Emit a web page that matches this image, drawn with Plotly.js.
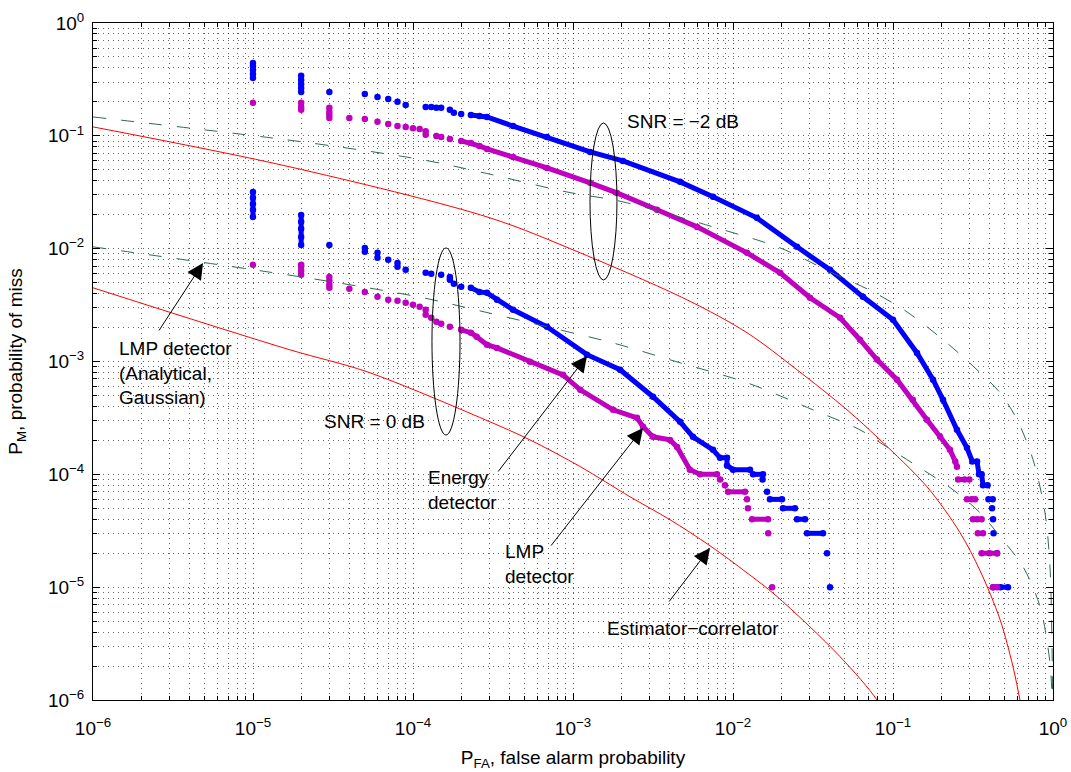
<!DOCTYPE html>
<html>
<head>
<meta charset="utf-8">
<script src="https://cdn.plot.ly/plotly-3.0.1.min.js"></script>
<style>html,body{margin:0;padding:0;background:#fff;}#chart{width:1071px;height:772px;}</style>
</head>
<body>
<div id="chart"></div>
<script>
// ---------- data ----------
// Energy detector, SNR = -2 dB (simulated, blue)
const edM2_x = [1e-5,1e-5,1e-5,1e-5,1e-5,null, 2e-5,2e-5,2e-5,2e-5,2e-5,null, 3e-5,null, 5e-5,null, 6e-5,null, 7e-5,null, 8e-5,null, 9e-5,null, 1.2e-4,null, 1.3e-4,null, 1.4e-4,null, 1.5e-4,null, 1.7e-4,null, 1.8e-4,null, 2e-4,null,
  2.3e-4,2.6e-4,2.9e-4,4.22e-4,6.88e-4,1.28e-3,2.05e-3,4.67e-3,7.5e-3,0.0141,0.0251,0.0404,0.0649,0.1,0.1413,0.178,0.2054,0.251,0.290,0.313,0.335,0.345,0.358,0.365,0.39,null, 0.395,0.42,null, 0.416,null, 0.422,null, 0.425,null, 0.447,null, 0.422,0.47,0.523];
const edM2_y = [0.442,0.416,0.384,0.353,0.326,null, 0.340,0.313,0.288,0.266,0.245,null, 0.245,null, 0.235,null, 0.221,null, 0.212,null, 0.200,null, 0.188,null, 0.180,null, 0.180,null, 0.177,null, 0.177,null, 0.170,null, 0.160,null, 0.156,null,
  0.153,0.150,0.147,0.122,0.0978,0.0720,0.0599,0.0391,0.0288,0.01875,0.01038,6.49e-3,3.74e-3,2.34e-3,1.19e-3,6.89e-4,4.58e-4,2.48e-4,1.72e-4,1.3e-4,1.3e-4,1e-4,1e-4,8e-5,8e-5,null, 6e-5,6e-5,null, 5e-5,null, 4e-5,null, 3e-5,null, 2e-5,null, 1e-5,1e-5,1e-5];

// LMP detector, SNR = -2 dB (simulated, magenta)
const lmpM2_x = [1e-5,null, 2e-5,2e-5,2e-5,null, 3e-5,3e-5,3e-5,3e-5,null, 4e-5,null, 5e-5,null, 6e-5,null, 7e-5,null, 8e-5,null, 9e-5,null, 1e-4,null, 1.1e-4,null, 1.2e-4,1.2e-4,null, 1.4e-4,null, 1.5e-4,null, 1.7e-4,null,
  2e-4,2.3e-4,2.6e-4,2.9e-4,4.22e-4,6.88e-4,1.28e-3,1.88e-3,3.35e-3,5.96e-3,0.01223,0.0197,0.0303,0.0467,0.0622,0.0794,0.106,0.133,0.163,0.197,0.227,0.245,0.251,null, 0.255,0.28,0.30,null, 0.29,0.31,0.326,null, 0.316,0.336,0.358,null, 0.339,0.365,null, 0.358,0.40,0.447,null, 0.422,0.447];
const lmpM2_y = [0.196,null, 0.196,0.180,0.170,null, 0.177,0.163,0.153,0.144,null, 0.144,null, 0.141,null, 0.133,null, 0.127,null, 0.122,null, 0.120,null, 0.117,null, 0.115,null, 0.110,0.102,null, 0.0998,null, 0.0978,null, 0.0939,null,
  0.0901,0.0865,0.0814,0.0766,0.0650,0.0520,0.0383,0.0312,0.0221,0.0156,9.18e-3,6.11e-3,3.67e-3,2.44e-3,1.56e-3,1.04e-3,6.89e-4,4.58e-4,3.05e-4,2.15e-4,1.65e-4,1.3e-4,1.17e-4,null, 9e-5,9e-5,9e-5,null, 6e-5,6e-5,6e-5,null, 4e-5,4e-5,4e-5,null, 3e-5,3e-5,null, 2e-5,2e-5,2e-5,null, 1e-5,1e-5];

// Energy detector, SNR = 0 dB (simulated, blue)
const edP0_x = [1e-5,1e-5,1e-5,1e-5,1e-5,null, 2e-5,2e-5,2e-5,2e-5,2e-5,null, 3e-5,null, 5e-5,5e-5,null, 6e-5,6e-5,null, 7e-5,null, 8e-5,8e-5,null, 9e-5,null, 1.2e-4,null, 1.3e-4,null, 1.5e-4,null, 1.7e-4,1.7e-4,null, 1.8e-4,null, 2e-4,null,
  2.3e-4,2.6e-4,2.9e-4,3.35e-4,4.22e-4,6.88e-4,1.223e-3,1.97e-3,3.16e-3,4.67e-3,5.62e-3,7.5e-3,8.3e-3,9.17e-3,9.17e-3,0.01,0.01277,null, 0.01334,0.0154,null, 0.0153,null, 0.01632,null, 0.01702,0.02023,null, 0.02052,0.0244,null, 0.0251,0.0282,null, 0.029,0.0365,null, 0.0387,null, 0.0404];
const edP0_y = [0.0318,0.0282,0.0249,0.0221,0.0191,null, 0.0199,0.0173,0.0150,0.0127,0.0108,null, 0.0108,null, 0.01016,9.37e-3,null, 9.18e-3,8.29e-3,null, 7.96e-3,null, 7.48e-3,6.90e-3,null, 6.49e-3,null, 6.11e-3,null, 5.98e-3,null, 5.86e-3,null, 5.62e-3,5.29e-3,null, 4.88e-3,null, 4.59e-3,null,
  4.50e-3,4.14e-3,4.06e-3,3.52e-3,2.87e-3,2.03e-3,1.15e-3,8.45e-4,4.87e-4,2.92e-4,2.15e-4,1.65e-4,1.4e-4,1.4e-4,1.2e-4,1.1e-4,1.1e-4,null, 1e-4,1e-4,null, 9e-5,null, 7e-5,null, 6e-5,6e-5,null, 5e-5,5e-5,null, 4e-5,4e-5,null, 3e-5,3e-5,null, 2e-5,null, 1e-5];

// LMP detector, SNR = 0 dB (simulated, magenta)
const lmpP0_x = [1e-5,null, 2e-5,2e-5,2e-5,2e-5,null, 3e-5,3e-5,3e-5,3e-5,null, 4e-5,null, 5e-5,null, 6e-5,null, 7e-5,null, 8e-5,null, 9e-5,null, 1e-4,null, 1.1e-4,null, 1.2e-4,1.2e-4,null, 1.3e-4,null, 1.4e-4,null, 1.5e-4,null, 1.7e-4,null,
  2e-4,2.3e-4,2.5e-4,2.9e-4,3.35e-4,5.38e-4,8.66e-4,1.11e-3,1.78e-3,2.51e-3,2.74e-3,3.16e-3,4.04e-3,4.47e-3,5.38e-3,6.22e-3,7.94e-3,null, 8.3e-3,null, 8.91e-3,null, 9.31e-3,0.01189,null, 0.01223,null, 0.0124,null, 0.01315,0.01656,null, 0.0166,null, 0.01755];
const lmpP0_y = [7.19e-3,null, 7.19e-3,6.90e-3,6.36e-3,5.86e-3,null, 5.62e-3,5.19e-3,4.78e-3,4.50e-3,null, 4.41e-3,null, 4.14e-3,null, 3.74e-3,null, 3.52e-3,null, 3.45e-3,null, 3.31e-3,null, 3.18e-3,null, 3.05e-3,null, 2.87e-3,2.59e-3,null, 2.44e-3,null, 2.25e-3,null, 2.16e-3,null, 2.03e-3,null,
  1.91e-3,1.80e-3,1.66e-3,1.41e-3,1.32e-3,9.94e-4,7.62e-4,5.61e-4,3.73e-4,3.17e-4,2.64e-4,2.15e-4,2.02e-4,1.75e-4,1.1e-4,1e-4,1e-4,null, 9e-5,null, 8e-5,null, 7e-5,7e-5,null, 6e-5,null, 5e-5,null, 4e-5,4e-5,null, 3e-5,null, 1e-5];

// Estimator-correlator (red), SNR = -2 dB and 0 dB
const ecM2_x = [1e-6,1.70e-5,3.03e-4,1.11e-3,5.16e-3,0.01223,0.0251,0.0516,0.0830,0.1631,0.2624,0.350,0.467,0.562,0.622,0.69];
const ecM2_y = [0.120,0.0531,0.01875,9.18e-3,3.52e-3,1.80e-3,8.45e-4,3.73e-4,2.02e-4,7.76e-5,3.04e-5,1.40e-5,5.15e-6,1.98e-6,1e-6,5e-7];
const ecP0_x = [1e-6,1.70e-5,5.16e-5,2.82e-4,5.38e-4,1.11e-3,2.27e-3,4.04e-3,7.18e-3,0.01223,0.01858,0.0467,0.0794,0.09];
const ecP0_y = [4.50e-3,1.27e-3,8.11e-4,3.05e-4,2.02e-4,1.17e-4,6.33e-5,3.96e-5,2.33e-5,1.34e-5,8.41e-6,2.42e-6,1e-6,7e-7];

// LMP detector, analytical Gaussian (dashed), SNR = -2 dB and 0 dB
const anM2_x = [1e-6,2.05e-5,1.155e-4,2.62e-4,9.17e-4,2.05e-3,7.50e-3,0.0197,0.0404,0.0750,0.1223,0.2054,0.335,0.467,0.596,0.750,0.891,0.957,0.986,0.997];
const anM2_y = [0.147,0.0883,0.0612,0.0479,0.0318,0.0260,0.0156,0.01016,6.23e-3,4.14e-3,2.75e-3,1.56e-3,8.45e-4,5.28e-4,3.05e-4,1.35e-4,4.57e-5,1.52e-5,2.97e-6,5e-7];
const anP0_x = [1e-6,2.18e-5,1.155e-4,2.62e-4,6.88e-4,1.78e-3,4.67e-3,0.01223,0.0316,0.0622,0.0830,0.1476,0.237,0.350,0.467,0.649,0.830,0.957,0.986,0.997];
const anP0_y = [0.01038,5.51e-3,3.67e-3,2.81e-3,2.03e-3,1.46e-3,9.74e-4,6.48e-4,3.73e-4,2.48e-4,1.91e-4,1.14e-4,7.31e-5,4.57e-5,2.80e-5,1.52e-5,6.72e-6,2.14e-6,1.07e-6,5e-7];

// ticks
const decadeVals = [1e-6,1e-5,1e-4,1e-3,1e-2,1e-1,1];
const decadeText = ['10<sup>−6</sup>','10<sup>−5</sup>','10<sup>−4</sup>','10<sup>−3</sup>','10<sup>−2</sup>','10<sup>−1</sup>','10<sup>0</sup>'];
const minorVals = [];
for (let e = -6; e < 0; e++) for (let m = 2; m <= 9; m++) minorVals.push(m * Math.pow(10, e));

// ---------- styles ----------
const BLUE = '#0000ff', MAG = '#bf00bf', RED = '#ff0000', GREEN = '#2f6a4f';
const FONT = 'Liberation Sans, Arial, Helvetica, sans-serif';

function simTrace(x, y, c, name) {
  return {x: x, y: y, type: 'scatter', mode: 'lines+markers', name: name, connectgaps: false,
          line: {color: c, width: 5}, marker: {color: c, size: 6.5}, hoverinfo: 'x+y'};
}
function lineTrace(x, y, c, dash, name) {
  return {x: x, y: y, type: 'scatter', mode: 'lines', name: name,
          line: {color: c, width: 1, dash: dash, shape: 'spline', smoothing: 0.9}};
}

const traces = [
  simTrace(edM2_x, edM2_y, BLUE, 'Energy detector, SNR = −2 dB'),
  simTrace(lmpM2_x, lmpM2_y, MAG, 'LMP detector, SNR = −2 dB'),
  simTrace(edP0_x, edP0_y, BLUE, 'Energy detector, SNR = 0 dB'),
  simTrace(lmpP0_x, lmpP0_y, MAG, 'LMP detector, SNR = 0 dB'),
  lineTrace(ecM2_x, ecM2_y, RED, 'solid', 'Estimator−correlator, SNR = −2 dB'),
  lineTrace(ecP0_x, ecP0_y, RED, 'solid', 'Estimator−correlator, SNR = 0 dB'),
  lineTrace(anM2_x, anM2_y, GREEN, '13px,15px', 'LMP analytical, SNR = −2 dB'),
  lineTrace(anP0_x, anP0_y, GREEN, '13px,15px', 'LMP analytical, SNR = 0 dB')
];

const gridCol = 'rgba(0,0,0,0.6)';
function axis(titleText, standoff, labelStandoff) {
  return {
    type: 'log', range: [-6, 0], autorange: false,
    tickmode: 'array', tickvals: decadeVals, ticktext: decadeText,
    ticks: 'inside', ticklen: 7, tickwidth: 1, tickcolor: '#000',
    ticklabelstandoff: labelStandoff,
    showline: true, linecolor: '#000', linewidth: 1, mirror: 'ticks',
    showgrid: true, gridcolor: gridCol, gridwidth: 1, griddash: '1px,4px',
    zeroline: false,
    tickfont: {family: FONT, size: 19, color: '#000'},
    minor: {tickmode: 'array', tickvals: minorVals, ticks: 'inside', ticklen: 4, tickwidth: 1, tickcolor: '#000',
            showgrid: true, gridcolor: gridCol, gridwidth: 1, griddash: '1px,4px'},
    title: {text: titleText, font: {family: FONT, size: 19, color: '#000'}, standoff: standoff},
    automargin: false
  };
}

const ann = [];
function label(txt, px, py) {
  ann.push({xref: 'paper', yref: 'paper', x: px, y: py, xanchor: 'left', yanchor: 'middle', align: 'left',
            text: txt, showarrow: false, font: {family: FONT, size: 19, color: '#000'}});
}
function arrow(px, py, ax, ay) {
  ann.push({xref: 'paper', yref: 'paper', x: px, y: py, text: '', showarrow: true,
            arrowhead: 2, arrowsize: 3.2, arrowwidth: 1, arrowcolor: '#000', ax: ax, ay: ay, standoff: 0});
}
label('SNR = −2 dB', 0.5542, 0.8538);
label('SNR = 0 dB', 0.2385, 0.4121);
label('LMP detector<br>(Analytical,<br>Gaussian)', 0.025, 0.4823);
label('Energy<br>detector', 0.3469, 0.3109);
label('LMP<br>detector', 0.4271, 0.2016);
label('Estimator−correlator', 0.5333, 0.1049);
arrow(0.1146, 0.6455, -45, 69);
arrow(0.5146, 0.5081, -90, 117);
arrow(0.5729, 0.4018, -93, 119);
arrow(0.6427, 0.2245, -42, 55);

const shapes = [
  {type: 'circle', xref: 'paper', yref: 'paper', x0: 0.5177, x1: 0.5458, y0: 0.6204, y1: 0.8523, line: {color: '#000', width: 1}},
  {type: 'circle', xref: 'paper', yref: 'paper', x0: 0.3531, x1: 0.3823, y0: 0.3914, y1: 0.6677, line: {color: '#000', width: 1}}
];

const layout = {
  width: 1071, height: 772,
  margin: {l: 93, r: 18, t: 23, b: 72, pad: 0},
  paper_bgcolor: '#fff', plot_bgcolor: '#fff',
  showlegend: false,
  font: {family: FONT, size: 19, color: '#000'},
  xaxis: axis('P<sub>FA</sub>, false alarm probability', 12, 11),
  yaxis: axis('P<sub>M</sub>, probability of miss', 20, 4),
  annotations: ann,
  shapes: shapes
};

Plotly.newPlot('chart', traces, layout, {displayModeBar: false, staticPlot: true});
</script>
</body>
</html>
